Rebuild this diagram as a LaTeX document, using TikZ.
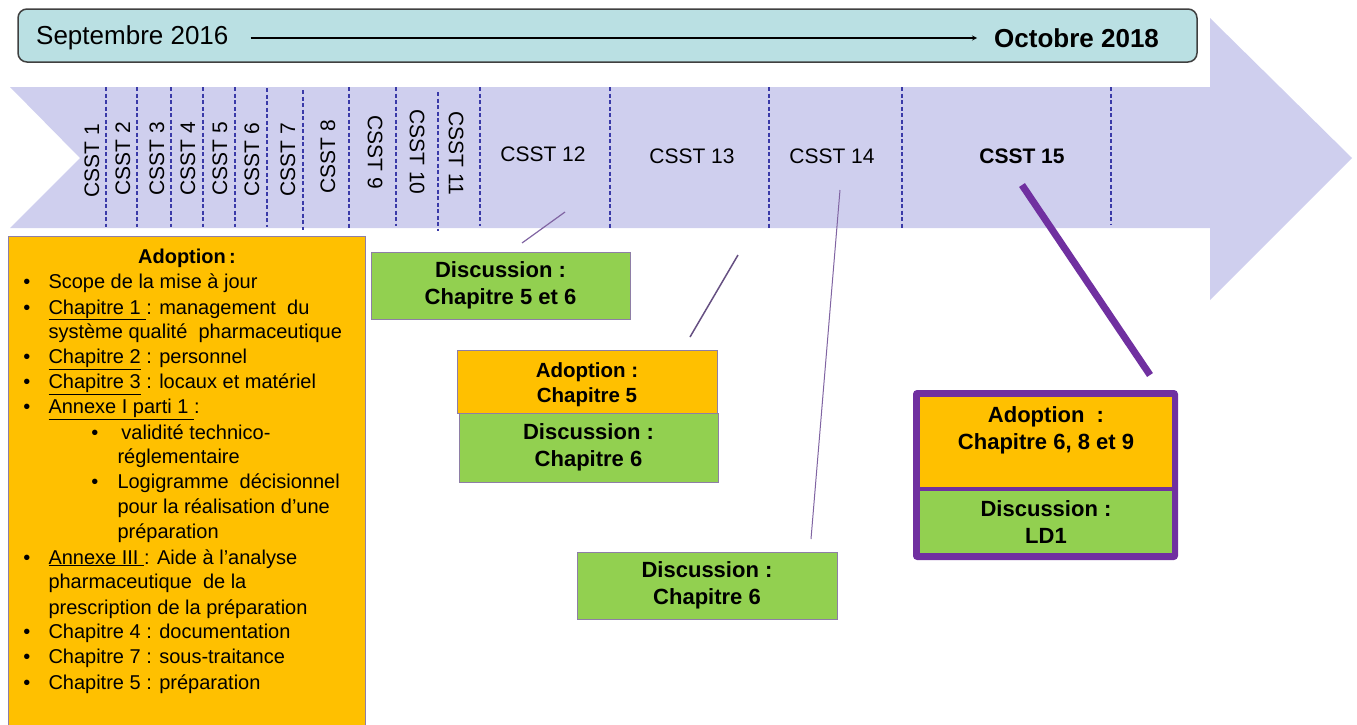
\documentclass[tikz,border=0pt]{standalone}
\usepackage{fontspec}
\setmainfont{Liberation Sans}
\usetikzlibrary{arrows}

\definecolor{arrowlav}{HTML}{CFCFEE}
\definecolor{topbox}{HTML}{BAE0E3}
\definecolor{adoptorange}{HTML}{FFC000}
\definecolor{discgreen}{HTML}{92D050}
\definecolor{framepurple}{HTML}{7030A0}
\definecolor{linkpurple}{HTML}{8064A2}
\definecolor{boxedge}{HTML}{8E7EA6}
\definecolor{divblue}{HTML}{3A3AA8}

\tikzstyle{topbar} = [rectangle, draw=black!75, fill=topbox, line width=1.5pt, rounded corners=9pt, minimum width=1179pt, minimum height=53pt]
\tikzstyle{datetext} = [inner sep=0pt, font=\fontsize{26}{30}\selectfont]
\tikzstyle{csst} = [inner sep=0pt, font=\fontsize{21}{25}\selectfont]
\tikzstyle{greenbox} = [rectangle, draw=boxedge, fill=discgreen, line width=1pt, minimum width=259pt, minimum height=67pt, align=center, font=\bfseries\fontsize{22}{27}\selectfont]
\tikzstyle{orangebox} = [rectangle, draw=boxedge, fill=adoptorange, line width=1pt, minimum width=260pt, align=center, font=\bfseries\fontsize{20.5}{25}\selectfont]
\tikzstyle{bigbox} = [rectangle, draw=boxedge, fill=adoptorange, line width=1pt, inner sep=0pt]
\tikzstyle{divider} = [draw=divblue, line width=1.3pt, dash pattern=on 4pt off 2.5pt]
\tikzstyle{link} = [draw=linkpurple, line width=1.2pt]
\tikzstyle{arrow} = [line width=1.2pt,->,>=stealth]

\newenvironment{adoptlist}{\begin{list}{\textbullet}{\setlength\leftmargin{40pt}\setlength\labelwidth{20pt}\setlength\labelsep{18pt}\setlength\itemsep{0pt}\setlength\parsep{0pt}\setlength\topsep{0pt}\setlength\partopsep{0pt}}}{\end{list}}
\newenvironment{adoptsublist}{\begin{list}{\textbullet}{\setlength\leftmargin{69pt}\setlength\labelwidth{20pt}\setlength\labelsep{19pt}\setlength\itemsep{0pt}\setlength\parsep{0pt}\setlength\topsep{0pt}\setlength\partopsep{0pt}}}{\end{list}}

\begin{document}
\begin{tikzpicture}[x=1pt, y=-1pt]
			\useasboundingbox (0,0) rectangle (1357,724);
			% Timeline arrow
			\path [fill=arrowlav] (10,87) -- (1210,87) -- (1210,18) -- (1352,158) -- (1210,300) -- (1210,228) -- (10,228) -- (80,158) -- cycle;
			\draw [divider] (106,87) -- (106,227) (137,87) -- (137,227) (171,87) -- (171,227) (203,87) -- (203,227)
				(235,87) -- (235,227) (267,88) -- (267,227) (303,90) -- (303,230) (349,87) -- (349,228)
				(396,87) -- (396,226) (438,92) -- (438,231) (480,87) -- (480,226) (610,87) -- (610,228)
				(769,87) -- (769,228) (902,87) -- (902,228) (1111,87) -- (1111,225);
			
			% Period
			\node (period) [topbar] at (607.5,35.5) {};
			\node (start) [datetext, anchor=west] at (36,38) {Septembre 2016};
			\node (end) [datetext, anchor=west, font=\bfseries\fontsize{26}{30}\selectfont] at (994,38) {Octobre 2018};
			\draw [arrow] ([xshift=22pt]start.east) -- ([xshift=-17pt]end.west);
			
			% Sessions
			\node (csst1) [csst, rotate=90] at (92,161) {CSST 1};
			\node (csst2) [csst, rotate=90] at (123,159) {CSST 2};
			\node (csst3) [csst, rotate=90] at (157,159) {CSST 3};
			\node (csst4) [csst, rotate=90] at (188,159) {CSST 4};
			\node (csst5) [csst, rotate=90] at (220,159) {CSST 5};
			\node (csst6) [csst, rotate=90] at (252,160) {CSST 6};
			\node (csst7) [csst, rotate=90] at (288,160) {CSST 7};
			\node (csst8) [csst, rotate=90] at (328,157) {CSST 8};
			\node (csst9) [csst, rotate=-90] at (375,152) {CSST 9};
			\node (csst10) [csst, rotate=-90] at (417,152) {CSST 10};
			\node (csst11) [csst, rotate=-90] at (456,153) {CSST 11};
			\node (csst12) [csst] at (543,154) {CSST 12};
			\node (csst13) [csst] at (692,156) {CSST 13};
			\node (csst14) [csst] at (832,156) {CSST 14};
			\node (csst15) [csst, font=\bfseries\fontsize{21}{25}\selectfont] at (1022,156) {CSST 15};
			
			% First adoption
			\node (adopt1) [bigbox, anchor=north west] at (8,236) {\begin{minipage}[t][504pt][t]{357pt}
				\fontsize{20}{25}\selectfont\parskip=0pt
				\vspace*{13pt}
				{\centering\textbf{Adoption\,:}\par}
				\raggedright
				\begin{adoptlist}
				\item Scope de la mise à jour
				\item \underline{Chapitre 1 }: management\ \ du\\système qualité\ \ pharmaceutique
				\item \underline{Chapitre 2} : personnel
				\item \underline{Chapitre 3} : locaux et matériel
				\item \underline{Annexe I parti 1 }:
					\begin{adoptsublist}
					\item \hspace{4pt}validité technico-\\réglementaire
					\item Logigramme\ \ décisionnel\\pour la réalisation d’une\\préparation
					\end{adoptsublist}
				\item \underline{Annexe III }: Aide à l’analyse\\pharmaceutique\ \ de la\\prescription de la préparation
				\item Chapitre 4 : documentation
				\item Chapitre 7 : sous-traitance
				\item Chapitre 5 : préparation
				\end{adoptlist}
				\end{minipage}};
			
			% Later sessions
			\node (disc12) [greenbox] at (500.5,285.5) {Discussion :\\Chapitre 5 et 6};
			\node (adopt13) [orangebox, minimum height=63pt] at (587,381.5) {\rule{0pt}{21pt}Adoption :\\Chapitre 5};
			\node (disc13) [greenbox, minimum height=69pt] at (588.5,447.5) {Discussion :\\Chapitre 6};
			\node (disc14) [greenbox, minimum width=260pt] at (707,585.5) {Discussion :\\Chapitre 6};
			\node (frame15) [fill=framepurple, rounded corners=4pt, minimum width=265pt, minimum height=170pt] at (1045.5,475) {};
			\node (adopt15) [orangebox, draw=none, minimum width=252pt, minimum height=90pt, font=\bfseries\fontsize{22}{27}\selectfont] at (1046,442) {Adoption\ \ :\\Chapitre 6, 8 et 9\\\mbox{}};
			\node (disc15) [greenbox, draw=none, minimum width=252pt, minimum height=62pt] at (1046,522) {Discussion :\\LD1};
			
			% Links
			\coordinate (link12a) at (565,212);
			\coordinate (link12b) at (522,243);
			\coordinate (link13a) at (738,255);
			\coordinate (link13b) at (690,337);
			\coordinate (link14a) at (840,190);
			\coordinate (link14b) at (811,539);
			\coordinate (link15a) at (1022,185);
			\coordinate (link15b) at (1150,375);
			\draw [link] (link12a) -- (link12b);
			\draw [link, draw=linkpurple!80!black, line width=1.5pt] (link13a) -- (link13b);
			\draw [link, line width=1pt] (link14a) -- (link14b);
			\draw [draw=framepurple, line width=7pt] (link15a) -- (link15b);
		\end{tikzpicture}
\end{document}
